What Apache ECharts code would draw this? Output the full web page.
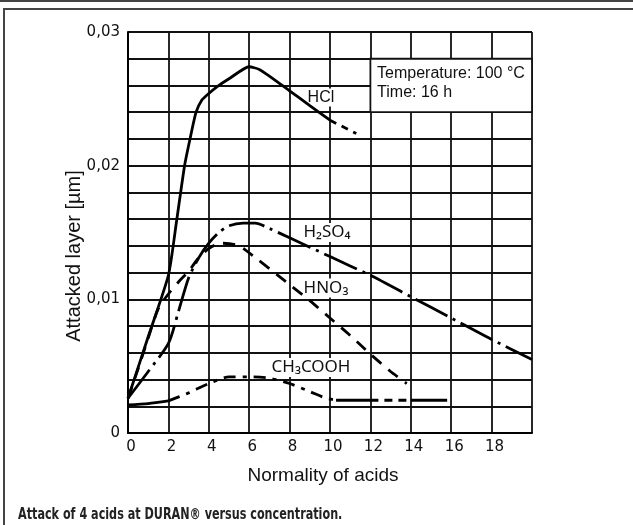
<!DOCTYPE html>
<html>
<head>
<meta charset="utf-8">
<script src="https://cdn.jsdelivr.net/npm/echarts@6/dist/echarts.min.js"></script>
<style>
html, body { margin: 0; padding: 0; background: #fff; }
#chart { width: 633px; height: 525px; }
</style>
</head>
<body>
<div id="chart"></div>
<script>
// values (x: normality, y: attacked layer in µm)
const hclX = [0, 1, 2, 2.4, 2.8, 3.07, 3.37, 3.65, 4, 4.4, 5, 6, 6.5, 7, 8, 9, 10]
const hclY = [0.0026, 0.0072, 0.0118, 0.0158, 0.0200, 0.0220, 0.0240, 0.0249, 0.0254, 0.0259, 0.0265, 0.0274, 0.0272, 0.0267, 0.0256, 0.0245, 0.0234]
const hclTailX = [10, 11.3]
const hclTailY = [0.0234, 0.0224]

const hno3X = [0, 0.5, 1, 1.5, 2, 2.5, 3, 3.5, 4, 4.6, 5.5, 6.4, 7, 8, 9, 10, 11, 12, 13, 13.8]
const hno3Y = [0.0026, 0.0048, 0.0071, 0.0093, 0.0104, 0.0113, 0.0121, 0.0131, 0.0138, 0.0142, 0.0140, 0.0130, 0.0123, 0.0111, 0.0099, 0.0086, 0.0073, 0.0059, 0.0046, 0.0037]

const h2so4X = [0, 1, 2, 2.5, 3, 3.5, 4, 4.5, 5, 5.7, 6.3, 7, 8, 9, 10, 11, 12, 14, 16, 18, 20]
const h2so4Y = [0.0026, 0.0046, 0.0067, 0.0091, 0.0116, 0.0131, 0.0142, 0.0150, 0.0155, 0.0157, 0.0157, 0.0153, 0.0146, 0.0139, 0.0132, 0.0125, 0.0118, 0.0102, 0.0086, 0.0070, 0.0055]

const ch3X = [0, 1, 2, 3, 4, 5, 6, 7, 8, 9, 9.8, 10.3, 12, 14, 15.8]
const ch3Y = [0.0021, 0.0022, 0.0024, 0.0030, 0.0037, 0.0042, 0.0042, 0.0041, 0.0037, 0.0031, 0.0026, 0.00245, 0.00245, 0.00245, 0.00245]

const xTicks = [0, 2, 4, 6, 8, 10, 12, 14, 16, 18]
const yTicks = ['0', '0,01', '0,02', '0,03']

// label anchors (data coords)
const curveLabels = [
    { text: 'HCl', at: [9.55, 0.0251], font: "16px 'Liberation Sans', Arial, sans-serif" },
    { text: 'H₂SO₄', at: [9.85, 0.0150], font: "17px 'Noto Sans', sans-serif" },
    { text: 'HNO₃', at: [9.8, 0.01085], font: "17px 'Noto Sans', sans-serif" },
    { text: 'CH₃COOH', at: [9.06, 0.0049], font: "17px 'Noto Sans', sans-serif" }
]

const pts = (xs, ys) => xs.map((x, i) => [x, ys[i]])
const seg = (xs, ys, a, b) => pts(xs, ys).filter(p => p[0] >= a && p[0] <= b)

function line(data, type, smooth) {
    return {
        type: 'line',
        data: data,
        showSymbol: false,
        smooth: smooth === undefined ? 0.25 : smooth,
        silent: true,
        z: 3,
        lineStyle: { color: '#000', width: 2.8, type: type, cap: 'butt' }
    }
}

const chart = echarts.init(document.getElementById('chart'))

chart.setOption({
    animation: false,
    backgroundColor: '#fff',
    grid: { left: 128, top: 32, width: 404, height: 401 },
    xAxis: {
        type: 'value',
        min: 0, max: 20, interval: 2,
        axisLine: { show: true, lineStyle: { color: '#000', width: 2 } },
        axisTick: { show: false },
        splitLine: { show: true, lineStyle: { color: '#111', width: 1.8 } },
        axisLabel: {
            color: '#111', fontSize: 15, fontFamily: "'DejaVu Sans', sans-serif", margin: 7,
            padding: [0, 0, 0, 6],
            formatter: v => xTicks.indexOf(Math.round(v)) >= 0 ? String(Math.round(v)) : ''
        }
    },
    yAxis: {
        type: 'value',
        min: 0, max: 0.03, interval: 0.002,
        axisLine: { show: true, lineStyle: { color: '#000', width: 2 } },
        axisTick: { show: false },
        splitLine: { show: true, lineStyle: { color: '#111', width: 1.8 } },
        axisLabel: {
            color: '#111', fontSize: 15, fontFamily: "'DejaVu Sans', sans-serif", margin: 8,
            formatter: v => {
                const k = Math.round(v * 1000)
                return k % 10 === 0 ? yTicks[k / 10] : ''
            }
        }
    },
    series: [
        line(pts(hclX, hclY), 'solid', 0.2),
        line(pts(hclTailX, hclTailY), [7, 6], 0),
        line(pts(hno3X, hno3Y), [12, 9]),
        line(pts(h2so4X, h2so4Y), [36, 6, 3, 6]),
        line(seg(ch3X, ch3Y, 0, 2), 'solid'),
        line(seg(ch3X, ch3Y, 2, 10.3), [12, 7, 4, 7]),
        line(seg(ch3X, ch3Y, 10.3, 12), 'solid', 0),
        line(seg(ch3X, ch3Y, 12, 14), [8, 6], 0),
        line(seg(ch3X, ch3Y, 14, 15.8), 'solid', 0)
    ]
})

const px = p => chart.convertToPixel({ gridIndex: 0 }, p)
const boxA = px([12, 0.028])
const boxB = px([20, 0.024])
const txtA = px([12.33, 0.0269])
const txtB = px([12.33, 0.02546])

const graphics = [
    // page frame
    { type: 'rect', shape: { x: 0, y: 0, width: 633, height: 2 }, style: { fill: '#444' }, z: 10 },
    { type: 'rect', shape: { x: 4, y: 9, width: 700, height: 600 }, style: { fill: 'none', stroke: '#444', lineWidth: 2 }, z: 10 },
    // condition box, outlined on the grid lines
    {
        type: 'rect',
        shape: { x: boxA[0], y: boxA[1], width: boxB[0] - boxA[0], height: boxB[1] - boxA[1] },
        style: { fill: '#fff', stroke: '#111', lineWidth: 1.8 }, z: 1
    },
    { type: 'text', x: txtA[0], y: txtA[1], z: 4, style: { text: 'Temperature: 100 °C', font: "16px 'Liberation Sans', Arial, sans-serif", fill: '#111', verticalAlign: 'middle' } },
    { type: 'text', x: txtB[0], y: txtB[1], z: 4, style: { text: 'Time: 16 h', font: "16px 'Liberation Sans', Arial, sans-serif", fill: '#111', verticalAlign: 'middle' } },
    // axis names and caption
    { type: 'text', x: 323, y: 476, z: 4, style: { text: 'Normality of acids', font: "19px 'Liberation Sans', Arial, sans-serif", fill: '#111', align: 'center', verticalAlign: 'middle' } },
    { type: 'text', x: 74, y: 256, rotation: Math.PI / 2, z: 4, style: { text: 'Attacked layer [µm]', font: "20px 'Liberation Sans', Arial, sans-serif", fill: '#111', align: 'center', verticalAlign: 'middle' } },
    {
        type: 'text', x: 18, y: 515, z: 4, scaleX: 0.7,
        style: { text: 'Attack of 4 acids at DURAN® versus concentration.', font: "bold 16px 'DejaVu Sans', sans-serif", fill: '#222', verticalAlign: 'middle' }
    }
]

curveLabels.forEach(l => {
    const p = px(l.at)
    graphics.push({
        type: 'text', x: p[0], y: p[1], z: 1,
        style: { text: l.text, font: l.font, fill: '#111', align: 'center', verticalAlign: 'middle', backgroundColor: '#fff', padding: [1, 3] }
    })
})

chart.setOption({ graphic: graphics })
</script>
</body>
</html>
